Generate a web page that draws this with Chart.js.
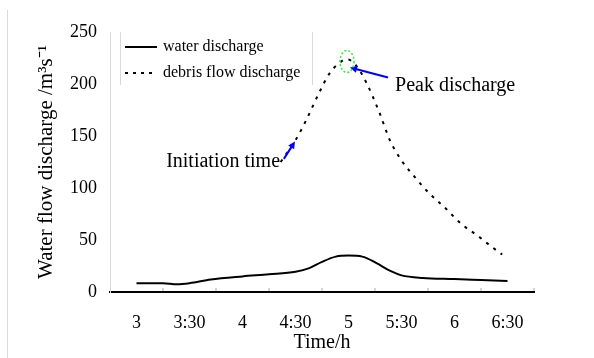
<!DOCTYPE html>
<html>
<head>
<meta charset="utf-8">
<script src="https://cdn.jsdelivr.net/npm/chart.js@4"></script>
<style>
  html, body { margin: 0; padding: 0; background: #fff; }
  #wrap { position: relative; width: 594px; height: 358px; }
  #frame { position: absolute; left: 7px; top: 10px; width: 1px; height: 348px; background: #d9d9d9; }
</style>
</head>
<body>
<div id="wrap">
  <div id="frame"></div>
  <canvas id="chart" width="594" height="358"></canvas>
</div>
<script>
// time in hours, discharge in m3/s
const tickHours = [3, 3.5, 4, 4.5, 5, 5.5, 6, 6.5];
const tickLabels = ['3', '3:30', '4', '4:30', '5', '5:30', '6', '6:30'];

const waterHours = [3.0, 3.25, 3.38, 3.5, 3.7, 4.0, 4.25, 4.5, 4.63, 4.75, 4.88, 5.0, 5.13, 5.26, 5.4, 5.5, 5.7, 6.0, 6.25, 6.5];
const waterValues = [8.5, 8.5, 7.5, 8.5, 12, 15, 17, 19.5, 23, 29, 34, 35, 34, 28, 20, 16, 13.5, 12.5, 11.5, 10.5];

const debrisHours = [4.36, 4.5, 4.6, 4.72, 4.82, 4.9, 4.98, 5.07, 5.17, 5.29, 5.39, 5.51, 5.63, 5.76, 5.9, 6.07, 6.22, 6.37, 6.45];
const debrisValues = [125, 146, 165, 191, 210, 219, 224, 218, 201, 173, 146, 125, 110, 95, 82, 65, 54, 42, 36];

const FONT = '"Liberation Serif", "Times New Roman", serif';

const toPoints = (xs, ys) => xs.map((x, i) => ({ x: x, y: ys[i] }));

function arrow(ctx, x1, y1, x2, y2) {
    const a = Math.atan2(y2 - y1, x2 - x1);
    ctx.beginPath();
    ctx.moveTo(x1, y1);
    ctx.lineTo(x2 - 4 * Math.cos(a), y2 - 4 * Math.sin(a));
    ctx.stroke();
    ctx.beginPath();
    ctx.moveTo(x2, y2);
    ctx.lineTo(x2 - 7 * Math.cos(a) + 3.5 * Math.sin(a), y2 - 7 * Math.sin(a) - 3.5 * Math.cos(a));
    ctx.lineTo(x2 - 7 * Math.cos(a) - 3.5 * Math.sin(a), y2 - 7 * Math.sin(a) + 3.5 * Math.cos(a));
    ctx.closePath();
    ctx.fill();
}

const extras = {
    id: 'extras',
    afterDraw(chart) {
        const ctx = chart.ctx;
        const xs = chart.scales.x, ys = chart.scales.y;
        const area = chart.chartArea;
        const px = h => xs.getPixelForValue(h);
        const py = v => ys.getPixelForValue(v);
        ctx.save();

        // small ticks between the labels
        ctx.strokeStyle = '#d4d4d4';
        ctx.lineWidth = 2;
        tickHours.forEach(h => {
            const x = px(h + 0.25);
            ctx.beginPath();
            ctx.moveTo(x, area.bottom - 4);
            ctx.lineTo(x, area.bottom - 1);
            ctx.stroke();
        });

        // legend
        const lx = area.left + 10;
        ctx.strokeStyle = '#d9d9d9';
        ctx.lineWidth = 1;
        ctx.beginPath();
        ctx.moveTo(lx + 0.5, area.top); ctx.lineTo(lx + 0.5, area.top + 53);
        ctx.moveTo(lx + 192.5, area.top); ctx.lineTo(lx + 192.5, area.top + 53);
        ctx.stroke();
        ctx.strokeStyle = '#000';
        ctx.lineWidth = 2;
        ctx.beginPath();
        ctx.moveTo(lx + 5, area.top + 15); ctx.lineTo(lx + 37, area.top + 15);
        ctx.stroke();
        ctx.setLineDash([3, 5]);
        ctx.beginPath();
        ctx.moveTo(lx + 5, area.top + 41); ctx.lineTo(lx + 37, area.top + 41);
        ctx.stroke();
        ctx.setLineDash([]);
        ctx.fillStyle = '#000';
        ctx.font = '16px ' + FONT;
        ctx.textBaseline = 'middle';
        ctx.textAlign = 'left';
        ctx.fillText('water discharge', lx + 43, area.top + 15);
        ctx.fillText('debris flow discharge', lx + 43, area.top + 41);

        // annotations
        ctx.strokeStyle = '#0000ff';
        ctx.fillStyle = '#0000ff';
        ctx.lineWidth = 2;
        arrow(ctx, px(4.39), py(128), px(4.495), py(144.7));
        arrow(ctx, px(5.373), py(206.3), px(5.014), py(215.9));

        ctx.strokeStyle = '#33ee33';
        ctx.lineWidth = 1.5;
        ctx.setLineDash([2, 2]);
        ctx.beginPath();
        ctx.ellipse(px(4.986), py(221.6), 7, 11, 0, 0, Math.PI * 2);
        ctx.stroke();
        ctx.setLineDash([]);

        ctx.fillStyle = '#000';
        ctx.font = '20px ' + FONT;
        ctx.textAlign = 'right';
        ctx.fillText('Initiation time', px(4.354), py(125.5));
        ctx.textAlign = 'left';
        ctx.fillText('Peak discharge', px(5.439), py(198.6));
        ctx.restore();
    }
};

new Chart(document.getElementById('chart'), {
    type: 'line',
    data: {
        datasets: [
            {
                label: 'water discharge',
                data: toPoints(waterHours, waterValues),
                borderColor: '#000',
                borderWidth: 2,
                pointRadius: 0,
                cubicInterpolationMode: 'monotone'
            },
            {
                label: 'debris flow discharge',
                data: toPoints(debrisHours, debrisValues),
                borderColor: '#000',
                borderWidth: 2,
                borderDash: [3, 6],
                pointRadius: 0,
                cubicInterpolationMode: 'monotone'
            }
        ]
    },
    options: {
        responsive: false,
        animation: false,
        events: [],
        layout: { padding: { left: 0, top: 32, right: 60, bottom: 0 } },
        plugins: { legend: { display: false }, tooltip: { enabled: false } },
        scales: {
            x: {
                type: 'linear',
                min: 2.75,
                max: 6.75,
                afterBuildTicks: scale => { scale.ticks = tickHours.map(v => ({ value: v })); },
                afterFit: scale => { scale.height = 66; },
                grid: { display: false, drawTicks: false },
                border: { color: '#000', width: 2 },
                ticks: {
                    autoSkip: false,
                    maxRotation: 0,
                    padding: 20,
                    color: '#000',
                    font: { family: FONT, size: 18 },
                    callback: v => tickLabels[tickHours.indexOf(v)]
                },
                title: {
                    display: true,
                    text: 'Time/h',
                    color: '#000',
                    font: { family: FONT, size: 20 },
                    padding: { top: 0, bottom: 3 }
                }
            },
            y: {
                min: 0,
                max: 250,
                afterFit: scale => { scale.width = 110; },
                grid: { display: false, drawTicks: false },
                border: { color: '#d9d9d9', width: 1 },
                ticks: {
                    stepSize: 50,
                    padding: 13,
                    color: '#000',
                    font: { family: FONT, size: 18 }
                },
                title: {
                    display: true,
                    text: 'Water flow discharge /m³s⁻¹',
                    color: '#000',
                    font: { family: FONT, size: 21 },
                    padding: { top: 34, bottom: 0 }
                }
            }
        }
    },
    plugins: [extras]
});
</script>
</body>
</html>
